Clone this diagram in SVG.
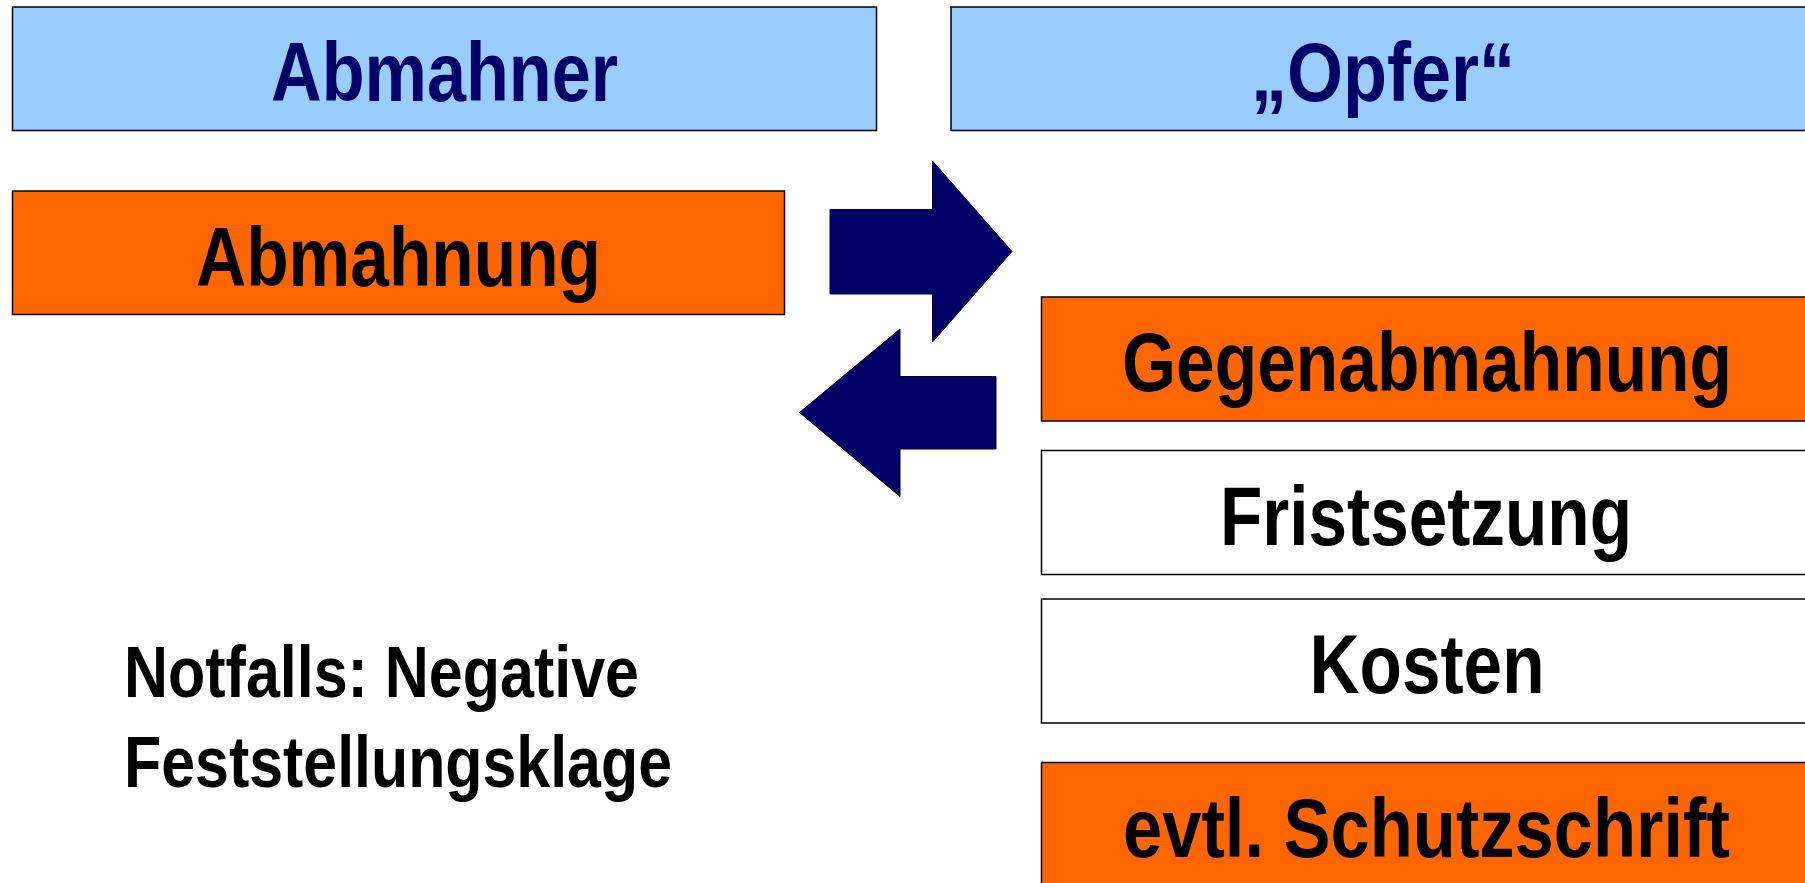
<svg xmlns="http://www.w3.org/2000/svg" width="1805" height="883" viewBox="0 0 1805 883">
<style>
.box{stroke:#000;stroke-width:1.5}
.blue{fill:#99CCFF}
.orange{fill:#FF6600}
.white{fill:#FFFFFF}
.t{font-family:"Liberation Sans Narrow","Liberation Sans",Arial,sans-serif;font-weight:bold;font-size:84px;text-anchor:middle;fill:#000}
.navy{fill:#000066}
.n{font-family:"Liberation Sans Narrow","Liberation Sans",Arial,sans-serif;font-weight:bold;font-size:72px;fill:#000}
.arrow{fill:#000066;stroke:#000033;stroke-width:1}
</style>
<rect width="1805" height="883" fill="#fff"/>
<g id="abmahner">
<rect class="box blue" x="12.5" y="7" width="864" height="123.5"/>
<text class="t navy" x="444.5" y="101" textLength="347" lengthAdjust="spacingAndGlyphs">Abmahner</text>
</g>
<g id="opfer">
<rect class="box blue" x="951" y="7" width="870" height="123.5"/>
<text class="t navy" x="1383" y="101" textLength="264" lengthAdjust="spacingAndGlyphs">„Opfer“</text>
</g>
<g id="abmahnung">
<rect class="box orange" x="12.5" y="191" width="772" height="123.5"/>
<text class="t" x="398.5" y="286" textLength="405" lengthAdjust="spacingAndGlyphs">Abmahnung</text>
</g>
<g id="gegenabmahnung">
<rect class="box orange" x="1041.5" y="297" width="780" height="124"/>
<text class="t" x="1427" y="391" textLength="610" lengthAdjust="spacingAndGlyphs">Gegenabmahnung</text>
</g>
<g id="fristsetzung">
<rect class="box white" x="1041.5" y="450.5" width="780" height="124"/>
<text class="t" x="1426" y="545" textLength="412" lengthAdjust="spacingAndGlyphs">Fristsetzung</text>
</g>
<g id="kosten">
<rect class="box white" x="1041.5" y="599" width="780" height="124"/>
<text class="t" x="1427" y="693" textLength="235" lengthAdjust="spacingAndGlyphs">Kosten</text>
</g>
<g id="schutzschrift">
<rect class="box orange" x="1041.5" y="762.5" width="780" height="140"/>
<text class="t" x="1426.5" y="857" textLength="607" lengthAdjust="spacingAndGlyphs">evtl. Schutzschrift</text>
</g>
<g id="notfalls">
<text class="n" x="124" y="697" textLength="515" lengthAdjust="spacingAndGlyphs">Notfalls: Negative</text>
<text class="n" x="124" y="787" textLength="548" lengthAdjust="spacingAndGlyphs">Feststellungsklage</text>
</g>
<g id="connectors">
<polygon class="arrow" points="830,209.5 932.5,209.5 932.5,161 1012,251.5 932.5,342 932.5,294 830,294"/>
<polygon class="arrow" points="996,376.5 900,376.5 900,329 799.5,412.5 900,496.5 900,449 996,449"/>
</g>
</svg>
